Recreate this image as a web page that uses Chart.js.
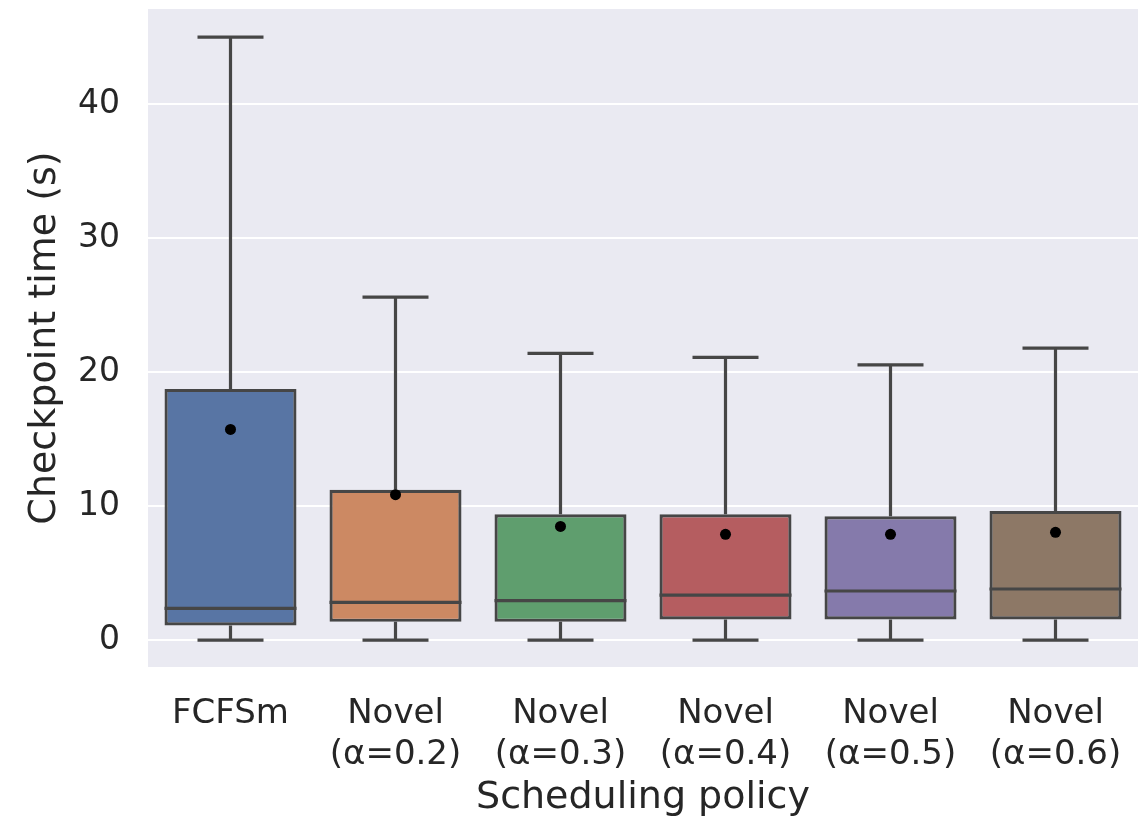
<!DOCTYPE html>
<html>
<head>
<meta charset="utf-8">
<title>Checkpoint time by scheduling policy</title>
<script src="https://cdn.jsdelivr.net/npm/chart.js@4/dist/chart.umd.min.js"></script>
<style>
  html, body { margin: 0; padding: 0; background: #ffffff; }
  #wrap { width: 1148px; height: 821px; }
</style>
</head>
<body>
<div id="wrap"><canvas id="boxChart" width="1148" height="821"></canvas></div>
<script>
// Box plot summary per scheduling policy (seconds)
const policies = [
    'FCFSm',
    ['Novel', '(α=0.2)'],
    ['Novel', '(α=0.3)'],
    ['Novel', '(α=0.4)'],
    ['Novel', '(α=0.5)'],
    ['Novel', '(α=0.6)']
];
const whiskerLow = [0, 0, 0, 0, 0, 0];
const q1 = [1.1, 1.37, 1.37, 1.55, 1.55, 1.55];
const median = [2.37, 2.82, 2.95, 3.37, 3.67, 3.82];
const q3 = [18.75, 11.22, 9.4, 9.4, 9.24, 9.65];
const whiskerHigh = [45.0, 25.6, 21.4, 21.1, 20.55, 21.8];
const mean = [15.73, 10.86, 8.49, 7.9, 7.9, 8.05];
const yTicks = [0, 10, 20, 30, 40];

const boxColors = ['#5875a4', '#cc8963', '#5f9e6e', '#b55d60', '#857aab', '#8d7866'];
const lineColor = '#464646';
const textColor = '#262626';

// grey panel behind the plot
const panelBackground = {
    id: 'panelBackground',
    beforeDraw(chart) {
        const { ctx, chartArea } = chart;
        ctx.save();
        ctx.fillStyle = '#eaeaf2';
        ctx.fillRect(chartArea.left, chartArea.top, chartArea.right - chartArea.left, chartArea.bottom - chartArea.top);
        ctx.restore();
    }
};

// whiskers, caps and median lines on top of the boxes
const boxWhiskers = {
    id: 'boxWhiskers',
    afterDatasetDraw(chart, args) {
        if (args.index !== 0) return;
        const { ctx } = chart;
        const x = chart.scales.x;
        const y = chart.scales.y;
        const bars = args.meta.data;
        ctx.save();
        ctx.strokeStyle = lineColor;
        ctx.lineWidth = 3.2;
        ctx.lineCap = 'butt';
        policies.forEach((_, i) => {
            const cx = x.getPixelForValue(i);
            const half = bars[i].width / 2;
            const capHalf = half / 2;
            ctx.beginPath();
            // upper whisker
            ctx.moveTo(cx, y.getPixelForValue(q3[i]));
            ctx.lineTo(cx, y.getPixelForValue(whiskerHigh[i]));
            ctx.moveTo(cx - capHalf, y.getPixelForValue(whiskerHigh[i]));
            ctx.lineTo(cx + capHalf, y.getPixelForValue(whiskerHigh[i]));
            // lower whisker
            ctx.moveTo(cx, y.getPixelForValue(q1[i]));
            ctx.lineTo(cx, y.getPixelForValue(whiskerLow[i]));
            ctx.moveTo(cx - capHalf, y.getPixelForValue(whiskerLow[i]));
            ctx.lineTo(cx + capHalf, y.getPixelForValue(whiskerLow[i]));
            // median
            ctx.moveTo(cx - half, y.getPixelForValue(median[i]));
            ctx.lineTo(cx + half, y.getPixelForValue(median[i]));
            ctx.stroke();
        });
        ctx.restore();
    }
};

const ctx = document.getElementById('boxChart').getContext('2d');
new Chart(ctx, {
    type: 'bar',
    data: {
        labels: policies,
        datasets: [{
            type: 'bar',
            label: 'IQR',
            data: q1.map((v, i) => [v, q3[i]]),
            backgroundColor: boxColors,
            borderColor: lineColor,
            borderWidth: 3.2,
            borderSkipped: false,
            barPercentage: 0.8,
            categoryPercentage: 1.0,
            order: 1
        }, {
            type: 'line',
            label: 'Mean',
            data: mean,
            showLine: false,
            pointRadius: 5.5,
            pointBackgroundColor: '#000000',
            pointBorderWidth: 0,
            order: 0
        }]
    },
    options: {
        responsive: false,
        animation: false,
        layout: { padding: { left: 0, right: 10, top: 9, bottom: 0 } },
        plugins: {
            legend: { display: false },
            tooltip: { enabled: false }
        },
        scales: {
            x: {
                grid: { display: false, drawTicks: false },
                border: { display: false },
                ticks: {
                    color: textColor,
                    padding: 27,
                    maxRotation: 0,
                    autoSkip: false,
                    font: { family: 'DejaVu Sans', size: 34 }
                },
                title: {
                    display: true,
                    text: 'Scheduling policy',
                    color: textColor,
                    padding: { top: 0, bottom: 0 },
                    font: { family: 'DejaVu Sans', size: 38 }
                },
                afterFit(scale) {
                    scale.height = 154;
                    scale.paddingLeft = 0;
                    scale.paddingRight = 0;
                }
            },
            y: {
                min: -2.0,
                max: 47.1,
                grid: { color: '#ffffff', lineWidth: 2, drawTicks: false },
                border: { display: false },
                afterBuildTicks(scale) {
                    scale.ticks = yTicks.map(v => ({ value: v }));
                },
                ticks: {
                    color: textColor,
                    padding: 28,
                    font: { family: 'DejaVu Sans', size: 33 }
                },
                title: {
                    display: true,
                    text: 'Checkpoint time (s)',
                    color: textColor,
                    padding: { top: 22, bottom: 0 },
                    font: { family: 'DejaVu Sans', size: 38 }
                },
                afterFit(scale) {
                    scale.width = 148;
                    scale.paddingTop = 0;
                    scale.paddingBottom = 0;
                }
            }
        }
    },
    plugins: [panelBackground, boxWhiskers]
});
</script>
</body>
</html>
